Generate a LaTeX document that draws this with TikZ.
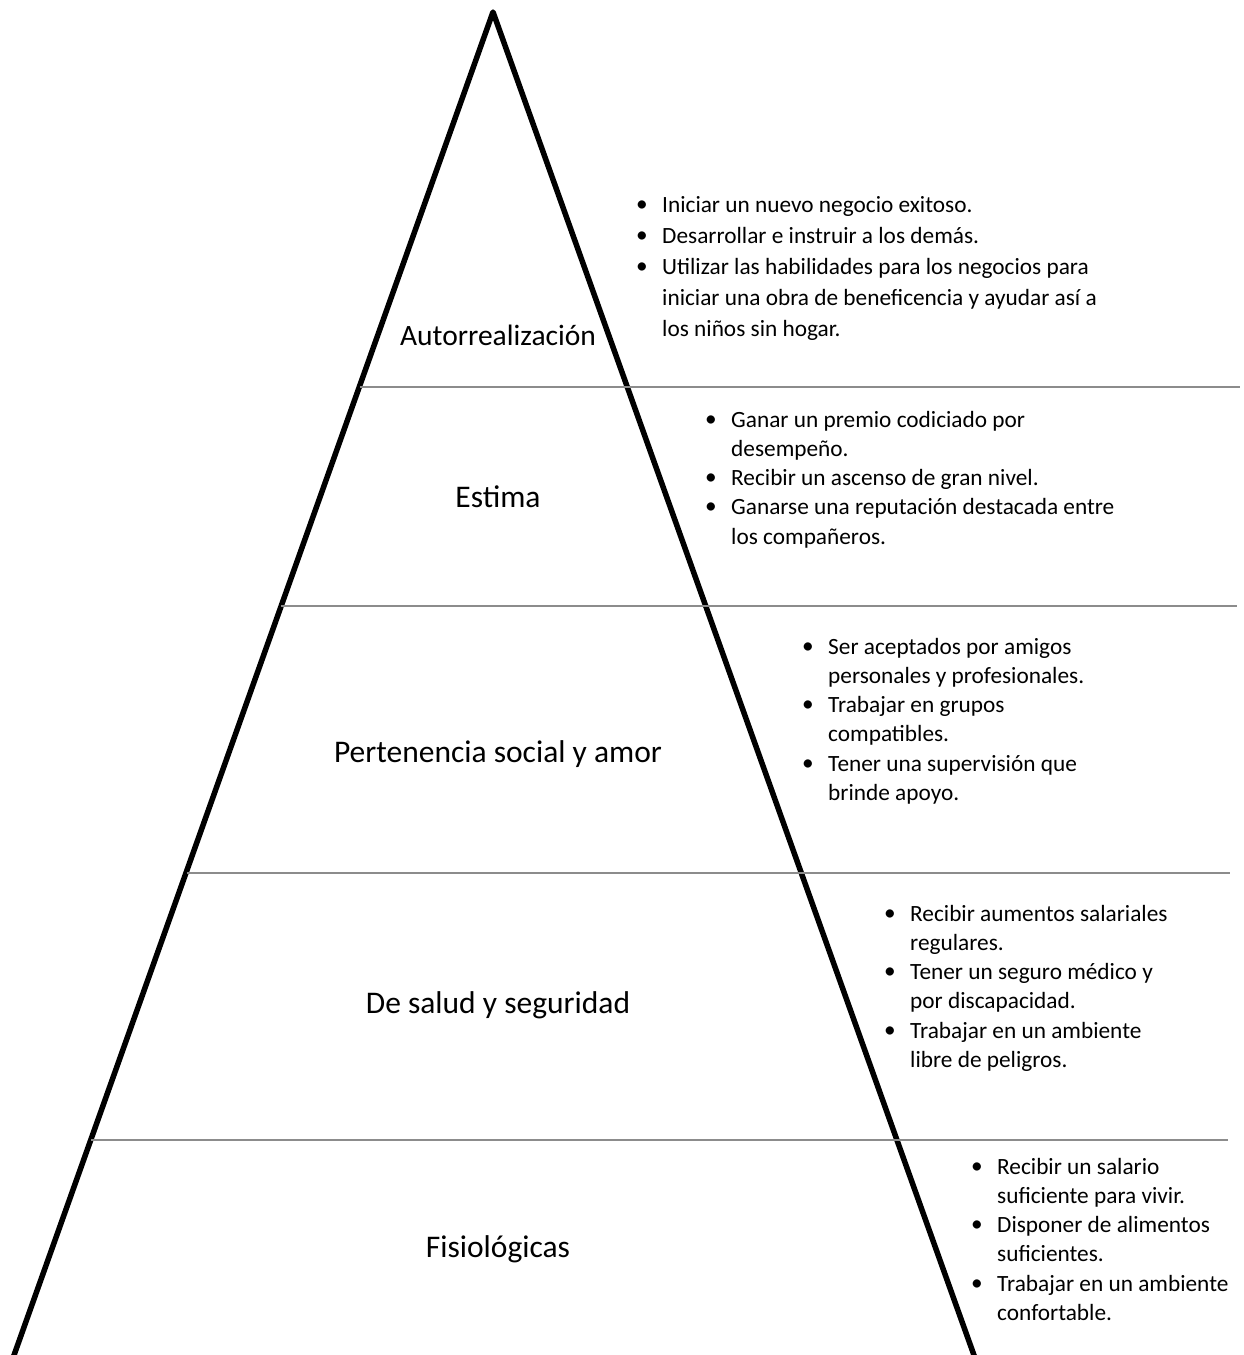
\documentclass[tikz,border=0pt]{standalone}
\usepackage{fontspec}
\setmainfont{Carlito}
\usepackage{array}
\begin{document}
\begin{tikzpicture}[x=1pt,y=-1pt,
  edge/.style={line width=5.5pt,line join=round,line cap=round},
  divider/.style={line width=1.6pt,draw=black!45},
  level/.style={inner sep=0pt,anchor=base,font=\fontsize{31.5}{36}\selectfont},
  listbox/.style={inner sep=0pt,anchor=base west,align=left}]
\useasboundingbox (0,0) rectangle (1244,1355);
\coordinate (apex) at (493,12);
\coordinate (bl) at (13,1358);
\coordinate (br) at (975,1358);
\draw[edge] (bl) -- (apex) -- (br);
% dividers
\coordinate (d1l) at (360,387); \coordinate (d1r) at (1240,387);
\coordinate (d2l) at (281,606); \coordinate (d2r) at (1237,606);
\coordinate (d3l) at (187,873); \coordinate (d3r) at (1230,873);
\coordinate (d4l) at (91,1140); \coordinate (d4r) at (1228,1140);
\draw[divider] (d1l) -- (d1r);
\draw[divider] (d2l) -- (d2r);
\draw[divider] (d3l) -- (d3r);
\draw[divider] (d4l) -- (d4r);
% levels
\node[level,font=\fontsize{29.5}{34}\selectfont] (n1) at (498,345) {Autorrealización};
\node[level] (n2) at (498,507) {Estima};
\node[level] (n3) at (498,762) {Pertenencia social y amor};
\node[level] (n4) at (498,1013) {De salud y seguridad};
\node[level] (n5) at (498,1257) {Fisiológicas};
\newcommand{\bul}{\makebox[26pt][l]{\raisebox{1pt}{\textbullet}}}
% lists
\node[listbox] (l1) at (636,212) {\fontsize{23.3}{31}\selectfont\begin{tabular}[t]{@{}l@{}l@{}}
\bul & Iniciar un nuevo negocio exitoso.\\
\bul & Desarrollar e instruir a los demás.\\
\bul & Utilizar las habilidades para los negocios para\\
 & iniciar una obra de beneficencia y ayudar así a\\
 & los niños sin hogar.
\end{tabular}};
\node[listbox] (l2) at (705,427) {\fontsize{23.3}{29.3}\selectfont\begin{tabular}[t]{@{}l@{}l@{}}
\bul & Ganar un premio codiciado por\\
 & desempeño.\\
\bul & Recibir un ascenso de gran nivel.\\
\bul & Ganarse una reputación destacada entre\\
 & los compañeros.
\end{tabular}};
\node[listbox] (l3) at (802,654) {\fontsize{23.3}{29.3}\selectfont\begin{tabular}[t]{@{}l@{}l@{}}
\bul & Ser aceptados por amigos\\
 & personales y profesionales.\\
\bul & Trabajar en grupos\\
 & compatibles.\\
\bul & Tener una supervisión que\\
 & brinde apoyo.
\end{tabular}};
\node[listbox] (l4) at (884,921) {\fontsize{23.3}{29.3}\selectfont\begin{tabular}[t]{@{}l@{}l@{}}
\bul & Recibir aumentos salariales\\
 & regulares.\\
\bul & Tener un seguro médico y\\
 & por discapacidad.\\
\bul & Trabajar en un ambiente\\
 & libre de peligros.
\end{tabular}};
\node[listbox] (l5) at (971,1174) {\fontsize{23.3}{29.3}\selectfont\begin{tabular}[t]{@{}l@{}l@{}}
\bul & Recibir un salario\\
 & suficiente para vivir.\\
\bul & Disponer de alimentos\\
 & suficientes.\\
\bul & Trabajar en un ambiente\\
 & confortable.
\end{tabular}};
\end{tikzpicture}
\end{document}
